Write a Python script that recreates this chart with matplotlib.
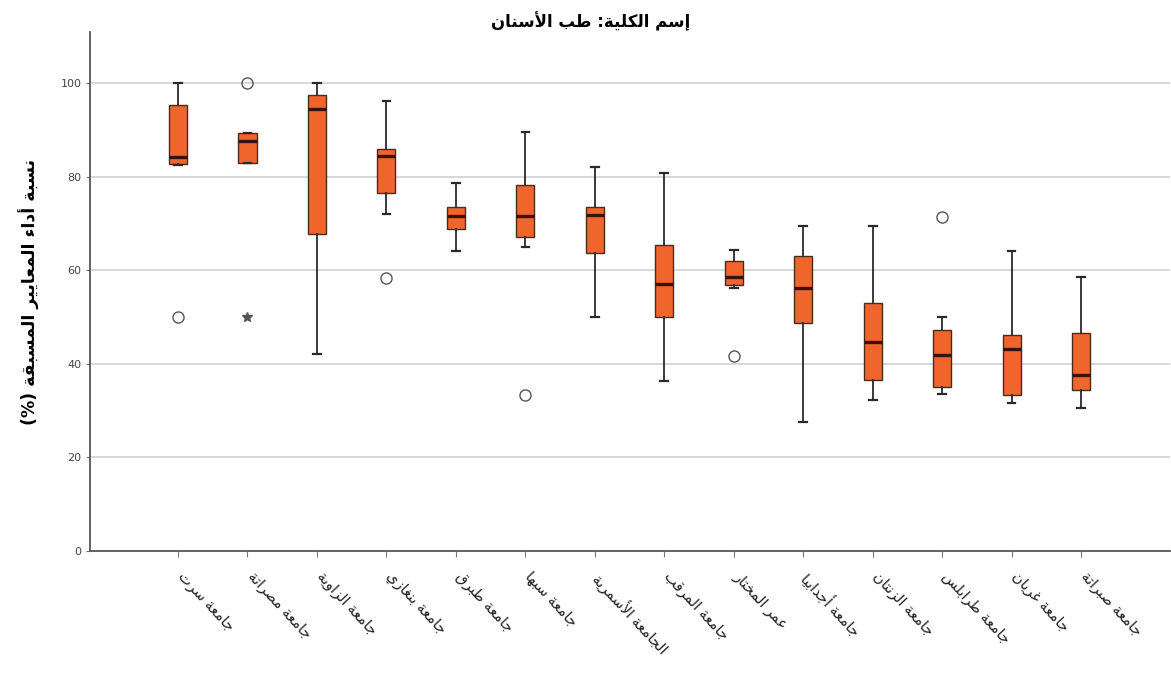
import matplotlib
matplotlib.use('Agg')
import matplotlib.pyplot as plt
import matplotlib.transforms as mtransforms

plt.rcParams['font.family'] = ['DejaVu Sans']

# =====================
# 数据
# =====================
title = 'إسم الكلية: طب الأسنان'
ylabel = 'نسبة أداء المعايير المسبقة (%)'

names = ['جامعة سرت', 'جامعة مصراتة', 'جامعة الزاوية', 'جامعة بنغازي',
         'جامعة طبرق', 'جامعة سبها', 'الجامعة الأسمرية', 'جامعة المرقب',
         'عمر المختار', 'جامعة أجدابيا', 'جامعة الزنتان', 'جامعة طرابلس',
         'جامعة غريان', 'جامعة صبراتة']

whis_lo = [82.5, 83.0, 42.1, 72.1, 64.0, 64.9, 50.1, 36.4, 56.3, 27.6, 32.3, 33.5, 31.6, 30.6]
q1 = [82.8, 83.0, 67.7, 76.6, 68.7, 67.0, 63.6, 50.1, 56.8, 48.8, 36.5, 35.1, 33.3, 34.4]
med = [84.1, 87.7, 94.4, 84.3, 71.6, 71.6, 71.7, 57.1, 58.6, 56.3, 44.6, 41.9, 43.1, 37.6]
q3 = [95.3, 89.4, 97.4, 86.0, 73.5, 78.2, 73.4, 65.4, 62.0, 63.0, 52.9, 47.2, 46.1, 46.6]
whis_hi = [100.0, 89.4, 100.0, 96.1, 78.6, 89.5, 82.1, 80.7, 64.3, 69.4, 69.5, 50.1, 64.0, 58.5]

# 离群值 (圆圈) 和极端值 (星号)
outliers = [[50.0], [100.0], [], [58.3], [], [33.3], [], [], [41.7], [], [], [71.3], [], []]
extremes = [[], [50.0], [], [], [], [], [], [], [], [], [], [], [], []]

yticks = [0, 20, 40, 60, 80, 100]

# =====================
# 阿拉伯文字形处理 (matplotlib 不做连写和从右到左)
# =====================
RIGHT = {'ا': 0xFE8D, 'أ': 0xFE83, 'إ': 0xFE87, 'آ': 0xFE81, 'ة': 0xFE93,
         'د': 0xFEA9, 'ذ': 0xFEAB, 'ر': 0xFEAD, 'ز': 0xFEAF, 'و': 0xFEED, 'ى': 0xFEEF}
DUAL = {'ب': 0xFE8F, 'ت': 0xFE95, 'ث': 0xFE99, 'ج': 0xFE9D, 'ح': 0xFEA1, 'خ': 0xFEA5,
        'س': 0xFEB1, 'ش': 0xFEB5, 'ص': 0xFEB9, 'ض': 0xFEBD, 'ط': 0xFEC1, 'ظ': 0xFEC5,
        'ع': 0xFEC9, 'غ': 0xFECD, 'ف': 0xFED1, 'ق': 0xFED5, 'ك': 0xFED9, 'ل': 0xFEDD,
        'م': 0xFEE1, 'ن': 0xFEE5, 'ه': 0xFEE9, 'ي': 0xFEF1}
LAM_ALEF = {'ا': 0xFEFB, 'أ': 0xFEF7, 'إ': 0xFEF9, 'آ': 0xFEF5}


def arabic(s):
    tokens = []
    i = 0
    while i < len(s):
        if s[i] == 'ل' and i + 1 < len(s) and s[i + 1] in LAM_ALEF:
            tokens.append(('LA', s[i + 1]))
            i += 2
        else:
            tokens.append(s[i])
            i += 1

    def joinable(t):
        return isinstance(t, tuple) or t in DUAL or t in RIGHT

    out = []
    for k, t in enumerate(tokens):
        prev = tokens[k - 1] if k > 0 else None
        nxt = tokens[k + 1] if k + 1 < len(tokens) else None
        jp = prev is not None and not isinstance(prev, tuple) and prev in DUAL
        jn = nxt is not None and joinable(nxt)
        if isinstance(t, tuple):
            out.append(chr(LAM_ALEF[t[1]] + (1 if jp else 0)))
        elif t in DUAL:
            off = 3 if (jp and jn) else 1 if jp else 2 if jn else 0
            out.append(chr(DUAL[t] + off))
        elif t in RIGHT:
            out.append(chr(RIGHT[t] + (1 if jp else 0)))
        elif t == 'ء':
            out.append('\uFE80')
        else:
            out.append(t)
    vis = ''.join(out)[::-1]
    return vis.translate(str.maketrans('()', ')('))


# =====================
# 绘图
# =====================
fig = plt.figure(figsize=(11.71, 6.75), dpi=100)
ax = fig.add_axes([90 / 1171, 124 / 675, 1080 / 1171, 519 / 675])

positions = list(range(1, len(names) + 1))
stats = []
for i in range(len(names)):
    stats.append(dict(med=med[i], q1=q1[i], q3=q3[i], whislo=whis_lo[i],
                      whishi=whis_hi[i], fliers=outliers[i]))

ax.bxp(stats, positions=positions, widths=0.26, patch_artist=True,
       boxprops=dict(facecolor='#F0652B', edgecolor='#4a2c1c', linewidth=1.0),
       medianprops=dict(color='#3a1208', linewidth=2.4),
       whiskerprops=dict(color='#2a2a2a', linewidth=1.3),
       capprops=dict(color='#2a2a2a', linewidth=1.6),
       capwidths=0.11,
       flierprops=dict(marker='o', markerfacecolor='none', markeredgecolor='#555555',
                       markersize=8, markeredgewidth=1.0),
       zorder=3)

for p, ex in zip(positions, extremes):
    if ex:
        ax.plot([p] * len(ex), ex, linestyle='none', marker='*', markersize=7,
                color='#555555', zorder=3)

ax.set_xlim(-0.267, 15.28)
ax.set_ylim(0, 110.9)
ax.set_yticks(yticks)
ax.set_yticklabels([str(v) for v in yticks], fontsize=8, color='#444444')
ax.set_xticks(positions)
ax.set_xticklabels([arabic(n) for n in names], rotation=-47, ha='left', va='top',
                   rotation_mode='anchor', fontsize=10.5, color='#222222')
ax.tick_params(axis='x', length=4, width=0.8, color='#777777', pad=9)
ax.tick_params(axis='y', length=3, width=0.8, color='#777777', pad=3)

# 标签整体向右移一点
shift = mtransforms.ScaledTranslation(8 / 100, 0, fig.dpi_scale_trans)
for lab in ax.get_xticklabels():
    lab.set_transform(lab.get_transform() + shift)

for v in yticks[1:]:
    ax.axhline(v, color='#d4d4d4', linewidth=1.3, zorder=1)

for side in ['top', 'right']:
    ax.spines[side].set_visible(False)
for side in ['left', 'bottom']:
    ax.spines[side].set_color('#555555')
    ax.spines[side].set_linewidth(1.3)

ax.set_ylabel(arabic(ylabel), fontsize=12.5, fontweight='bold', labelpad=15)
fig.text(0.504, 0.969, arabic(title), ha='center', va='center', fontsize=12,
         fontweight='bold')

fig.savefig('out.png', dpi=100)
